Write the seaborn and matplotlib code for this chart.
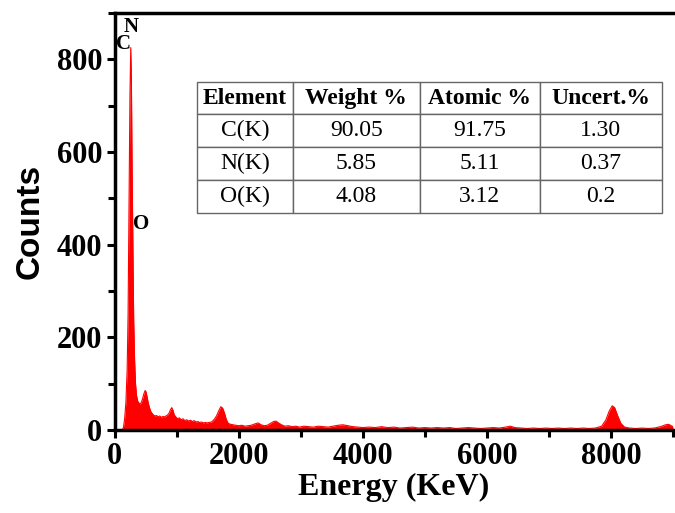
import numpy as np
import pandas as pd
import matplotlib
matplotlib.use('Agg')
import matplotlib.pyplot as plt
from matplotlib.ticker import MultipleLocator
import seaborn as sns


# EDS spectrum (energy in eV, counts)
energy = [
    120, 140, 160, 180, 200, 215, 230, 245, 258, 268, 280, 292, 305, 320, 335,
    350, 370, 390, 410, 430, 450, 470, 490, 505, 520, 540, 560, 580, 600, 625,
    650, 675, 700, 725, 750, 775, 800, 825, 850, 875, 900, 920, 940, 960, 985,
    1010, 1040, 1070, 1100, 1130, 1160, 1190, 1220, 1250, 1280, 1310, 1340,
    1370, 1400, 1430, 1460, 1490, 1520, 1560, 1600, 1640, 1680, 1710, 1740,
    1770, 1800, 1830, 1870, 1910, 1950, 2000, 2050, 2100, 2150, 2200, 2260,
    2310, 2360, 2410, 2460, 2510, 2560, 2600, 2640, 2690, 2740, 2800, 2860,
    2920, 2980, 3050, 3120, 3200, 3280, 3360, 3440, 3520, 3600, 3680, 3760,
    3840, 3920, 4000, 4100, 4200, 4300, 4400, 4500, 4600, 4700, 4800, 4900,
    5000, 5100, 5200, 5300, 5400, 5500, 5600, 5700, 5800, 5900, 6000, 6100,
    6200, 6300, 6380, 6450, 6550, 6650, 6750, 6850, 6950, 7050, 7150, 7250,
    7350, 7450, 7550, 7650, 7750, 7850, 7920, 7970, 8020, 8060, 8110, 8160,
    8220, 8300, 8400, 8500, 8600, 8700, 8800, 8880, 8930, 8970, 9000,
]
counts = [
    0, 5, 25, 60, 130, 250, 480, 720, 825, 760, 560, 400, 240, 150, 100,
    75, 62, 58, 55, 60, 68, 78, 85, 82, 72, 58, 48, 40, 36, 32,
    30, 31, 28, 30, 27, 29, 28, 30, 32, 36, 44, 48, 42, 32, 28,
    24, 26, 22, 24, 20, 22, 19, 21, 18, 20, 17, 18,
    16, 17, 15, 16, 15, 16, 17, 22, 30, 42, 50, 47,
    36, 22, 14, 12, 11, 10, 9, 10, 8, 9, 10, 13,
    15, 11, 9, 10, 14, 18, 19, 15, 11, 8, 9, 7,
    8, 6, 8, 7, 6, 8, 7, 6, 8, 10, 11, 9,
    7, 6, 5, 6, 5, 7, 5, 6, 4, 5, 6, 4,
    5, 4, 5, 4, 5, 3, 4, 5, 4, 3, 4, 5,
    4, 6, 8, 5, 4, 3, 4, 3, 4, 3, 4, 3,
    4, 3, 4, 3, 4, 8, 22, 40, 52, 48, 30, 14,
    6, 4, 3, 4, 3, 4, 7, 11, 12, 9, 7,
]

# composition table
col_labels = ['Element', 'Weight %', 'Atomic %', 'Uncert.%']
elements = ['C(K)', 'N(K)', 'O(K)']
weight_pct = ['90.05', '5.85', '4.08']
atomic_pct = ['91.75', '5.11', '3.12']
uncert_pct = ['1.30', '0.37', '0.2']

# peak labels
peak_names = ['N', 'C', 'O']
peak_x = [258, 145, 420]
peak_y = [869, 832, 445]

SERIF = 'Liberation Serif'
SANS = 'Liberation Sans'

sns.set_style('ticks')
plt.rcParams['font.family'] = [SERIF, 'DejaVu Sans']
plt.rcParams['text.color'] = 'black'
plt.rcParams['axes.labelcolor'] = 'black'
plt.rcParams['xtick.color'] = 'black'
plt.rcParams['ytick.color'] = 'black'

df = pd.DataFrame({'energy': energy, 'counts': counts})

fig = plt.figure(figsize=(6.75, 5.13), dpi=100)
ax = fig.add_axes([0.170, 0.162, 0.827, 0.813])

ax.fill_between(df['energy'], df['counts'], 0, color='#ff0000', linewidth=0)
sns.lineplot(data=df, x='energy', y='counts', ax=ax, color='#ff0000', linewidth=0.8)

ax.set_xlim(0, 9000)
ax.set_ylim(0, 900)
ax.xaxis.set_major_locator(MultipleLocator(2000))
ax.xaxis.set_minor_locator(MultipleLocator(1000))
ax.yaxis.set_major_locator(MultipleLocator(200))
ax.yaxis.set_minor_locator(MultipleLocator(100))

for side in ['left', 'bottom', 'top']:
    ax.spines[side].set_linewidth(2.5)
    ax.spines[side].set_color('black')
ax.spines['right'].set_visible(False)

ax.tick_params(which='major', direction='out', length=6, width=2.2, top=False, right=False)
ax.tick_params(which='minor', direction='out', length=5, width=2.2, top=False, right=False)
ax.tick_params(axis='both', labelsize=22, pad=3, labelcolor='black')
for lab in ax.get_xticklabels() + ax.get_yticklabels():
    lab.set_fontweight('bold')
    lab.set_family(SERIF)

ax.set_xlabel('Energy (KeV)', fontsize=23, fontweight='bold', family=SERIF,
              labelpad=1, color='black')
ax.set_ylabel('Counts', fontsize=24, fontweight='bold', family=SANS,
              labelpad=8, color='black')

for name, x, y in zip(peak_names, peak_x, peak_y):
    ax.text(x, y, name, fontsize=15, fontweight='bold', family=SERIF,
            ha='center', va='center', color='black')

cell_text = [list(r) for r in zip(elements, weight_pct, atomic_pct, uncert_pct)]
tbl = ax.table(cellText=cell_text, colLabels=col_labels, cellLoc='center',
               bbox=[0.147, 0.520, 0.833, 0.315],
               colWidths=[96, 127, 120, 122])
tbl.auto_set_font_size(False)
for (r, c), cell in tbl.get_celld().items():
    cell.set_edgecolor('#666666')
    cell.set_linewidth(1.0)
    cell.set_facecolor('white')
    txt = cell.get_text()
    txt.set_fontsize(17)
    txt.set_family(SERIF)
    txt.set_color('black')
    if r == 0:
        txt.set_fontweight('bold')

fig.savefig('out.png', dpi=100)
